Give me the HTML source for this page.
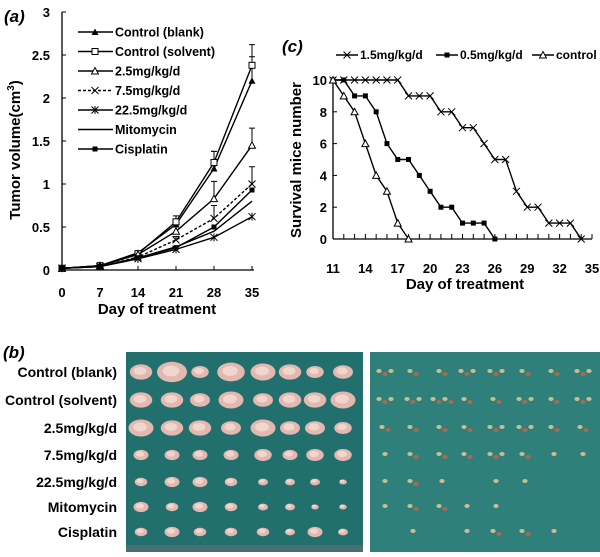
<!DOCTYPE html>
<html><head><meta charset="utf-8"><style>
body{margin:0;background:#fff;}
svg{display:block;font-family:"Liberation Sans",Arial,sans-serif;font-weight:bold;}
</style></head><body>
<svg id="fig" width="600" height="557" viewBox="0 0 600 557">
<text x="4" y="22" font-size="17" font-style="italic">(a)</text>
<text x="282" y="52" font-size="17" font-style="italic">(c)</text>
<text x="3" y="358" font-size="17" font-style="italic">(b)</text>
<g id="chartA"></g>
<g id="chartC"></g>
<g id="photos"></g>
</svg>
<script>
const NS="http://www.w3.org/2000/svg";
function mk(p,t,a,txt){const e=document.createElementNS(NS,t);for(const k in a)e.setAttribute(k,a[k]);if(txt!=null)e.textContent=txt;p.appendChild(e);return e;}

// ===== Panel A data =====
const daysA=[0,7,14,21,28,35];
const yTicksA=[0,0.5,1,1.5,2,2.5,3];
const yTickLabelsA=["0","0.5","1","1.5","2","2.5","3"];
const seriesNamesA=["Control (blank)","Control (solvent)","2.5mg/kg/d","7.5mg/kg/d","22.5mg/kg/d","Mitomycin","Cisplatin"];
const blank=[0.02,0.05,0.2,0.53,1.18,2.2];
const solvent=[0.02,0.05,0.19,0.56,1.25,2.38];
const d25=[0.02,0.05,0.18,0.45,0.83,1.45];
const d75=[0.02,0.04,0.15,0.35,0.6,1.0];
const d225=[0.02,0.04,0.13,0.24,0.38,0.62];
const mito=[0.02,0.04,0.14,0.27,0.45,0.8];
const cis=[0.02,0.04,0.14,0.26,0.5,0.93];
const errSolvent=[0,0.01,0.02,0.07,0.13,0.24];
const errBlank=[0,0.01,0.02,0.06,0.2,0.28];
const err25=[0,0.01,0.02,0.05,0.2,0.2];
const err75=[0,0.01,0.02,0.04,0.15,0.2];

const xA=d=>62+d*(190/35);
const yA=v=>270-v*86;
const gA=document.getElementById('chartA');
mk(gA,'line',{x1:62,y1:12,x2:62,y2:270,stroke:'#000','stroke-width':1.3});
mk(gA,'line',{x1:62,y1:270,x2:254,y2:270,stroke:'#000','stroke-width':1.3});
yTicksA.forEach((t,i)=>{
  mk(gA,'line',{x1:62,y1:yA(t),x2:66,y2:yA(t),stroke:'#000'});
  const tl=mk(gA,'text',{x:50,y:yA(t)+5,'font-size':13,'text-anchor':'end'},yTickLabelsA[i]);
  
  
});
daysA.forEach(d=>{
  mk(gA,'line',{x1:xA(d),y1:270,x2:xA(d),y2:266,stroke:'#000'});
  const tl=mk(gA,'text',{x:xA(d),y:297,'font-size':13,'text-anchor':'middle'},String(d));
  
  
});
const xtA=mk(gA,'text',{x:157,y:314,'font-size':15,'text-anchor':'middle'},'Day of treatment');


const ytA=mk(gA,'text',{transform:'translate(20,150) rotate(-90)','font-size':15,'text-anchor':'middle'});


ytA.innerHTML='Tumor volume(cm<tspan dy="-6" font-size="10">3</tspan><tspan dy="6">)</tspan>';

function marker(g,type,x,y){
  if(type==='tri')mk(g,'path',{d:`M${x-3.5} ${y+3}L${x+3.5} ${y+3}L${x} ${y-3.5}Z`,fill:'#000'});
  else if(type==='sq')mk(g,'rect',{x:x-3,y:y-3,width:6,height:6,fill:'#fff',stroke:'#000'});
  else if(type==='otri')mk(g,'path',{d:`M${x-3.5} ${y+3}L${x+3.5} ${y+3}L${x} ${y-3.5}Z`,fill:'#fff',stroke:'#000'});
  else if(type==='x')mk(g,'path',{d:`M${x-3.5} ${y-3.5}L${x+3.5} ${y+3.5}M${x-3.5} ${y+3.5}L${x+3.5} ${y-3.5}`,stroke:'#000',fill:'none'});
  else if(type==='star')mk(g,'path',{d:`M${x-3.5} ${y-3.5}L${x+3.5} ${y+3.5}M${x-3.5} ${y+3.5}L${x+3.5} ${y-3.5}M${x} ${y-4}L${x} ${y+4}`,stroke:'#000',fill:'none'});
  else if(type==='fsq')mk(g,'rect',{x:x-2.5,y:y-2.5,width:5,height:5,fill:'#000'});
}
const allA=[blank,solvent,d25,d75,d225,mito,cis];
const marks=['tri','sq','otri','x','star','none','fsq'];
const dashes=['','','','3,2','','',''];
const errs=[errBlank,errSolvent,err25,err75,null,null,null];
allA.forEach((s,si)=>{
  const g=mk(gA,'g',{});
  
  
  mk(g,'polyline',{points:s.map((v,i)=>xA(daysA[i])+','+yA(v)).join(' '),fill:'none',stroke:'#000','stroke-width':1.4,'stroke-dasharray':dashes[si]});
  if(errs[si])s.forEach((v,i)=>{const e=errs[si][i];if(e>0.03){mk(g,'path',{d:`M${xA(daysA[i])} ${yA(v)}V${yA(v+e)}M${xA(daysA[i])-3} ${yA(v+e)}H${xA(daysA[i])+3}`,stroke:'#000',fill:'none'});}});
  s.forEach((v,i)=>marker(g,marks[si],xA(daysA[i]),yA(v)));
});
seriesNamesA.forEach((n,i)=>{
  const y=32+i*19.5;
  const g=mk(gA,'g',{});
  
  
  mk(g,'line',{x1:78,y1:y,x2:113,y2:y,stroke:'#000','stroke-width':1.4,'stroke-dasharray':dashes[i]});
  marker(g,marks[i],95,y);
  mk(g,'text',{x:115,y:y+4.5,'font-size':12.5},n);
});

// ===== Panel C data =====
const daysC=[11,12,13,14,15,16,17,18,19,20,21,22,23,24,25,26,27,28,29,30,31,32,33,34];
const surv15=[10,10,10,10,10,10,10,9,9,9,8,8,7,7,6,5,5,3,2,2,1,1,1,0];
const daysC05=[11,12,13,14,15,16,17,18,19,20,21,22,23,24,25,26];
const surv05=[10,10,9,9,8,6,5,5,4,3,2,2,1,1,1,0];
const daysCctl=[11,12,13,14,15,16,17,18];
const survCtl=[10,9,8,6,4,3,1,0];
const xTickLabelsC=[11,14,17,20,23,26,29,32,35];
const yTicksC=[0,2,4,6,8,10];
const xC=d=>333+(d-11)*(259/24);
const yC=v=>239-v*15.9;
const gC=document.getElementById('chartC');
mk(gC,'line',{x1:333,y1:78,x2:333,y2:239,stroke:'#000','stroke-width':1.3});
mk(gC,'line',{x1:333,y1:239,x2:592,y2:239,stroke:'#000','stroke-width':1.3});
for(let d=11;d<=35;d++)mk(gC,'line',{x1:xC(d),y1:239,x2:xC(d),y2:234,stroke:'#000'});
yTicksC.forEach(t=>{
  mk(gC,'line',{x1:333,y1:yC(t),x2:337,y2:yC(t),stroke:'#000'});
  const tl=mk(gC,'text',{x:327,y:yC(t)+5,'font-size':13,'text-anchor':'end'},String(t));
  
  
});
xTickLabelsC.forEach(d=>{
  const tl=mk(gC,'text',{x:xC(d),y:273,'font-size':13,'text-anchor':'middle'},String(d));
  
  
});
const xtC=mk(gC,'text',{x:465,y:289,'font-size':15,'text-anchor':'middle'},'Day of treatment');


const ytC=mk(gC,'text',{transform:'translate(301,160) rotate(-90)','font-size':15,'text-anchor':'middle'},'Survival mice number');


[[daysC,surv15,'x'],[daysC05,surv05,'fsq'],[daysCctl,survCtl,'otri']].forEach((s,si)=>{
  const g=mk(gC,'g',{});
  
  
  mk(g,'polyline',{points:s[0].map((d,i)=>xC(d)+','+yC(s[1][i])).join(' '),fill:'none',stroke:'#000','stroke-width':1.4});
  s[0].forEach((d,i)=>marker(g,s[2],xC(d),yC(s[1][i])));
});
[['1.5mg/kg/d','x',336],['0.5mg/kg/d','fsq',436],['control','otri',532]].forEach(l=>{
  const g=mk(gC,'g',{});
  
  
  mk(g,'line',{x1:l[2],y1:55,x2:l[2]+22,y2:55,stroke:'#000','stroke-width':1.4});
  marker(g,l[1],l[2]+11,55);
  mk(g,'text',{x:l[2]+24,y:59,'font-size':12},l[0]);
});

// ===== Panel B photos =====
const rowLabels=["Control (blank)","Control (solvent)","2.5mg/kg/d","7.5mg/kg/d","22.5mg/kg/d","Mitomycin","Cisplatin"];
const tumorSize=[[9,12,7,11,10,9,7,8],[9,9,8,10,8,9,9,10],[10,9,9,8,10,8,8,7],[6,6,6,6,7,6,7,7],[5,6,6,5,4,4,4,3],[6,5,6,5,4,4,3,3],[5,6,5,5,5,4,6,4]];
const nodCount=[[3,2,2,3,3,2,2,3],[3,3,4,2,2,3,2,3],[2,2,2,2,3,3,2,2],[1,2,2,2,3,2,1,1],[1,2,1,0,1,1,0,0],[1,2,2,1,1,0,0,0],[0,1,0,1,2,2,1,0]];
const gP=document.getElementById('photos');
const rowY=[372,400,428,455,482,507,532];
const colX=[141,172,200,231,263,290,315,343];
const colX2=[385,413,442,467,496,525,554,583];
rowLabels.forEach((l,i)=>{
  const t=mk(gP,'text',{x:117,y:rowY[i]+5,'font-size':14,'text-anchor':'end'},l);
  
  
});
const p1=mk(gP,'rect',{x:126,y:352,width:237,height:200,fill:'#22706e'});


mk(gP,'rect',{x:126,y:545,width:237,height:7,fill:'#4b6f70'});
const p2=mk(gP,'rect',{x:370,y:352,width:230,height:200,fill:'#2f807b'});


tumorSize.forEach((r,i)=>r.forEach((s,j)=>{
  mk(gP,'ellipse',{cx:colX[j],cy:rowY[i],rx:s*1.25,ry:s*0.85,fill:'#e2b8b0'});
  mk(gP,'ellipse',{cx:colX[j]-1,cy:rowY[i]-1,rx:s*0.7,ry:s*0.45,fill:'#f0d6cc'});
}));
nodCount.forEach((r,i)=>r.forEach((n,j)=>{
  for(let k=0;k<n;k++)mk(gP,'ellipse',{cx:colX2[j]+(k-(n-1)/2)*6,cy:rowY[i]+(k%2?2:-1),rx:2.6,ry:2,fill:k%2?'#a86a50':'#d0bc90'});
}));
</script>
</body></html>
